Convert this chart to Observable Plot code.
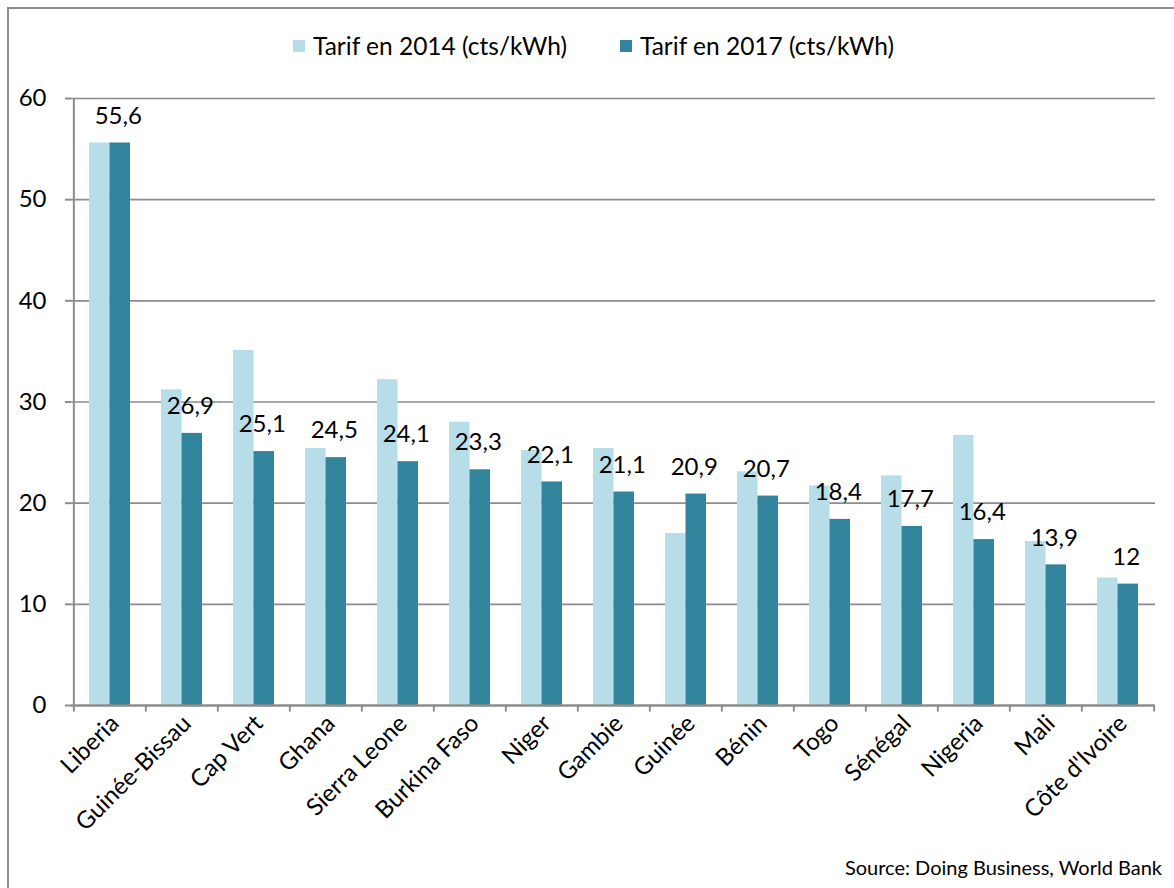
<!DOCTYPE html>
<html>
<head>
<meta charset="utf-8">
<script src="https://cdn.jsdelivr.net/npm/d3@7"></script>
<script src="https://cdn.jsdelivr.net/npm/@observablehq/plot@0.6"></script>
<style>
  body { margin: 0; background: #fff; }
  #wrap { position: relative; width: 1174px; height: 888px; overflow: hidden; font-family: Lato, "Open Sans", sans-serif; color: #000; }
  #chart { position: absolute; left: 0; top: 0; }
  #frame { position: absolute; left: 7px; top: 7px; width: 1300px; height: 1000px; border: 2px solid #8c8c8c; pointer-events: none; }
  .legend { position: absolute; top: 31px; font-size: 24.5px; display: flex; align-items: center; white-space: nowrap; }
  .sw { width: 12px; height: 12px; margin-right: 8px; }
  #source { position: absolute; right: 12px; top: 855px; font-size: 20px; white-space: nowrap; }
</style>
</head>
<body>
<div id="wrap">
  <div id="chart"></div>
  <div class="legend" style="left:293px"><div class="sw" id="sw1"></div><span id="lg1"></span></div>
  <div class="legend" style="left:620px"><div class="sw" id="sw2"></div><span id="lg2"></span></div>
  <div id="source"></div>
  <div id="frame"></div>
</div>
<script>
const countries = ["Liberia", "Guinée-Bissau", "Cap Vert", "Ghana", "Sierra Leone", "Burkina Faso", "Niger", "Gambie", "Guinée", "Bénin", "Togo", "Sénégal", "Nigeria", "Mali", "Côte d'Ivoire"];
const tarif2014 = [55.6, 31.2, 35.1, 25.4, 32.2, 28.0, 25.2, 25.4, 17.0, 23.1, 21.7, 22.7, 26.7, 16.2, 12.6];
const tarif2017 = [55.6, 26.9, 25.1, 24.5, 24.1, 23.3, 22.1, 21.1, 20.9, 20.7, 18.4, 17.7, 16.4, 13.9, 12];
const seriesNames = ["Tarif en 2014 (cts/kWh)", "Tarif en 2017 (cts/kWh)"];
const seriesColors = ["#b7dde8", "#31849b"];
const yTicks = [0, 10, 20, 30, 40, 50, 60];
const sourceText = "Source: Doing Business, World Bank";

const data = countries.map((c, i) => ({country: c, v2014: tarif2014[i], v2017: tarif2017[i], label: String(tarif2017[i]).replace(".", ",")}));

const W = 1174, H = 888, mL = 71, mR = 19, mT = 98, mB = 183;
const step = (W - mL - mR) / countries.length;
const pad = 0.433;
const bw = step * (1 - pad);
const gray = "#8c8c8c";

const chart = Plot.plot({
  width: W, height: H,
  marginTop: mT, marginBottom: mB, marginLeft: mL, marginRight: mR,
  style: {fontFamily: "Lato, 'Open Sans', sans-serif", fontSize: "20px", color: "#000", background: "transparent", overflow: "visible"},
  x: {domain: countries, paddingInner: pad, paddingOuter: pad / 2},
  y: {domain: [0, 60], ticks: yTicks},
  marks: [
    Plot.gridY(yTicks.slice(1), {stroke: gray, strokeOpacity: 1, strokeWidth: 1.6}),
    Plot.barY(data, {x: "country", y: "v2014", fill: seriesColors[0], insetRight: bw / 2}),
    Plot.barY(data, {x: "country", y: "v2017", fill: seriesColors[1], insetLeft: bw / 2}),
    Plot.text(data, {x: "country", y: "v2017", text: "label", dx: bw / 4 - 2, dy: -27, fontSize: 24, fill: "#000"}),
    // left axis line
    Plot.ruleX([countries[0]], {y1: 0, y2: 60, dx: -step / 2, stroke: gray, strokeWidth: 2}),
    // bottom axis line
    Plot.ruleY([0], {stroke: gray, strokeWidth: 2.5}),
    // category boundary ticks
    Plot.ruleX(countries, {y1: 0, y2: -0.65, dx: -step / 2, stroke: gray, strokeWidth: 2}),
    Plot.ruleX([countries[countries.length - 1]], {y1: 0, y2: -0.65, dx: step / 2, stroke: gray, strokeWidth: 2}),
    Plot.axisY(yTicks, {tickSize: 6, tickPadding: 19, stroke: gray, strokeWidth: 2, fontSize: 24, label: null}),
    Plot.axisX({tickSize: 0, tickRotate: -45, tickPadding: 14, dx: 5, fontSize: 24, label: null})
  ]
});
document.getElementById("chart").appendChild(chart);
document.getElementById("sw1").style.background = seriesColors[0];
document.getElementById("sw2").style.background = seriesColors[1];
document.getElementById("lg1").textContent = seriesNames[0];
document.getElementById("lg2").textContent = seriesNames[1];
document.getElementById("source").textContent = sourceText;
</script>
</body>
</html>
